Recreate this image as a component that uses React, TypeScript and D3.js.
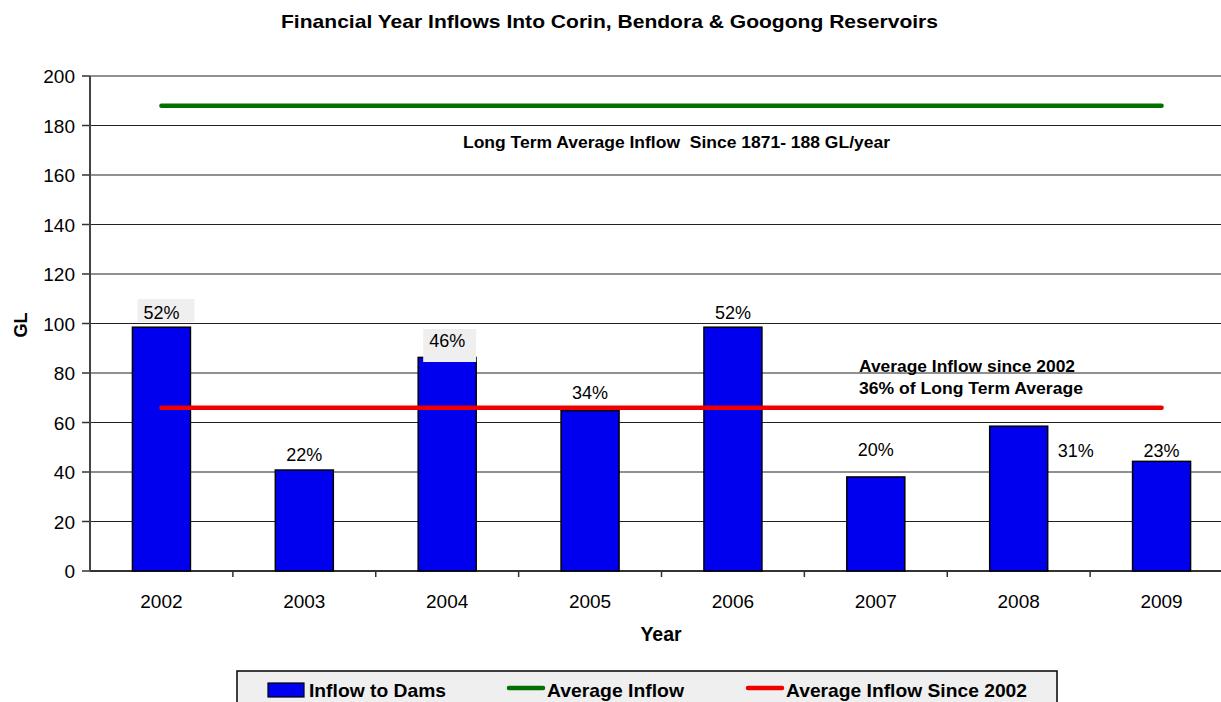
import React from "react";
import * as d3 from "d3";

const years = ["2002", "2003", "2004", "2005", "2006", "2007", "2008", "2009"];
const inflow = [98.5, 40.8, 86.3, 64.8, 98.5, 38.0, 58.5, 44.3];
const pctLabels = ["52%", "22%", "46%", "34%", "52%", "20%", "31%", "23%"];
const longTermAvg = 188;
const avgSince2002 = 66;
const yTicks = [0, 20, 40, 60, 80, 100, 120, 140, 160, 180, 200];

// label placement offsets (styling)
const labelDx = [0, 0, 0, 0, 0, 0, 57, 0];
const labelY = [313, 455, 341, 393, 313, 450, 451, 451];
const labelBg = [true, false, true, false, false, false, false, false];

const W = 1221;
const H = 702;
const M = { left: 90, right: -12, top: 76, bottom: 131 };

export default function App() {
  const x = d3.scaleBand<string>().domain(years).range([M.left, W - M.right]).paddingInner(0).paddingOuter(0);
  const y = d3.scaleLinear().domain([0, 200]).range([H - M.bottom, M.top]);
  const bw = x.bandwidth() * 0.406;
  const cx = (d: string) => (x(d) as number) + x.bandwidth() / 2;
  const font = "'Liberation Sans', Arial, sans-serif";
  const x0 = cx(years[0]);
  const x1 = cx(years[years.length - 1]);

  return (
    <svg width={W} height={H} style={{ position: "absolute", left: 0, top: 0, background: "#fff" }} fontFamily={font}>
      <rect width={W} height={H} fill="#fff" />
      <text x={281} y={28} fontSize={18.5} fontWeight="bold" textLength={657} lengthAdjust="spacingAndGlyphs">
        Financial Year Inflows Into Corin, Bendora &amp; Googong Reservoirs
      </text>
      {/* gridlines */}
      {yTicks.map((t) => (
        <g key={t}>
          <line x1={M.left} x2={W} y1={y(t)} y2={y(t)} stroke={t === 0 ? "#333" : "#222"} strokeWidth={t === 0 ? 2 : 1.2} />
          <line x1={M.left - 8} x2={M.left} y1={y(t)} y2={y(t)} stroke="#333" strokeWidth={1.5} />
          <text x={75} y={y(t) + 7} textAnchor="end" fontSize={19}>{t}</text>
        </g>
      ))}
      <line x1={M.left} x2={M.left} y1={y(200)} y2={y(0)} stroke="#444" strokeWidth={2} />
      {/* x ticks */}
      {years.map((d, i) => (
        <g key={d}>
          {i > 0 && <line x1={x(d)} x2={x(d)} y1={y(0)} y2={y(0) + 6} stroke="#333" strokeWidth={1.5} />}
          <text x={cx(d)} y={608} textAnchor="middle" fontSize={19}>{d}</text>
        </g>
      ))}
      {/* bars */}
      {years.map((d, i) => (
        <rect key={d} x={cx(d) - bw / 2} y={y(inflow[i])} width={bw} height={y(0) - y(inflow[i])} fill="#0000ee" stroke="#000" strokeWidth={1.5} />
      ))}
      {/* labels */}
      {years.map((d, i) => (
        <g key={"l" + d}>
          {labelBg[i] && (
            <rect x={cx(d) + labelDx[i] - 24} y={i === 0 ? labelY[i] - 14 : labelY[i] - 12} width={i === 0 ? 57 : 53} height={i === 0 ? 23 : 33} fill="#efefef" />
          )}
          <text x={cx(d) + labelDx[i]} y={labelY[i] + 6} textAnchor="middle" fontSize={18}>{pctLabels[i]}</text>
        </g>
      ))}
      {/* average lines */}
      <line x1={x0} x2={x1} y1={y(longTermAvg)} y2={y(longTermAvg)} stroke="#007000" strokeWidth={4.5} strokeLinecap="round" />
      <line x1={x0} x2={x1} y1={y(avgSince2002)} y2={y(avgSince2002)} stroke="#ee0000" strokeWidth={4.5} strokeLinecap="round" />
      <text x={463} y={148} fontSize={16.5} fontWeight="bold" style={{ whiteSpace: "pre" }} textLength={427} lengthAdjust="spacingAndGlyphs">Long Term Average Inflow  Since 1871- 188 GL/year</text>
      <text x={859} y={372} fontSize={16.5} fontWeight="bold" textLength={216} lengthAdjust="spacingAndGlyphs">Average Inflow since 2002</text>
      <text x={859} y={394} fontSize={16.5} fontWeight="bold" textLength={224} lengthAdjust="spacingAndGlyphs">36% of Long Term Average</text>
      {/* axis titles */}
      <text transform="translate(27,325) rotate(-90)" textAnchor="middle" fontSize={18} fontWeight="bold">GL</text>
      <text x={661} y={641} textAnchor="middle" fontSize={19.5} fontWeight="bold">Year</text>
      {/* legend */}
      <rect x={237} y={671} width={820} height={40} fill="#efefef" stroke="#000" strokeWidth={1.5} />
      <rect x={268} y={683} width={36} height={14} fill="#0000ee" stroke="#000" strokeWidth={1.2} />
      <text x={309} y={697} fontSize={18.5} fontWeight="bold" textLength={137} lengthAdjust="spacingAndGlyphs">Inflow to Dams</text>
      <line x1={509} x2={543} y1={688} y2={688} stroke="#007000" strokeWidth={4.5} strokeLinecap="round" />
      <text x={547} y={697} fontSize={18.5} fontWeight="bold" textLength={137} lengthAdjust="spacingAndGlyphs">Average Inflow</text>
      <line x1={748} x2={782} y1={688} y2={688} stroke="#ee0000" strokeWidth={4.5} strokeLinecap="round" />
      <text x={786} y={697} fontSize={18.5} fontWeight="bold" textLength={241} lengthAdjust="spacingAndGlyphs">Average Inflow Since 2002</text>
    </svg>
  );
}
